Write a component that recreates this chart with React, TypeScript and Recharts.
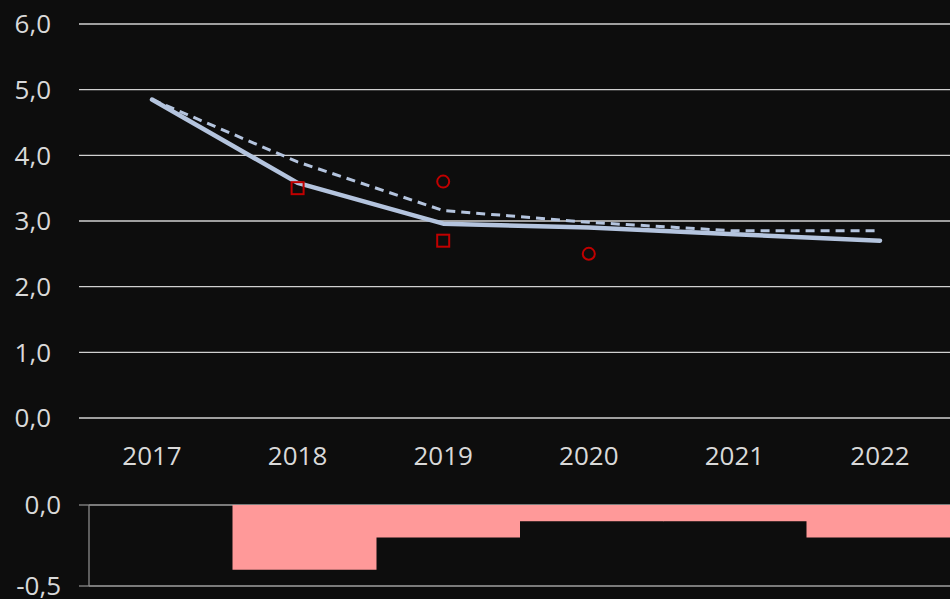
import React from "react";
import {
  ComposedChart,
  BarChart,
  Bar,
  Line,
  XAxis,
  YAxis,
  CartesianGrid,
} from "recharts";

const years = ["2017", "2018", "2019", "2020", "2021", "2022"];
const solidSeries = [4.85, 3.58, 2.96, 2.9, 2.8, 2.7];
const dashedSeries = [4.85, 3.9, 3.16, 2.98, 2.85, 2.85];
const squareSeries: (number | null)[] = [null, 3.5, 2.7, null, null, null];
const circleSeries: (number | null)[] = [null, null, 3.6, 2.5, null, null];
const diffSeries = [0, -0.4, -0.2, -0.1, -0.1, -0.2];
const topTicks = [0, 1, 2, 3, 4, 5, 6];
const bottomTicks = [-0.5, 0];

const topData = years.map((y, i) => ({
  year: y,
  solid: solidSeries[i],
  dashed: dashedSeries[i],
  square: squareSeries[i],
  circle: circleSeries[i],
}));

const bottomData = years.map((y, i) => ({ year: y, diff: diffSeries[i] }));

const fmt = (v: number) => v.toFixed(1).replace(".", ",");

const TEXT = "#d9d9d9";
const FONT = "'Open Sans', sans-serif";
const RED = "#c00000";
const LINE = "#b4c4de";

const SquareDot = (props: any) => {
  const { cx, cy, payload, index } = props;
  if (cx == null || cy == null || payload?.square == null) return <g key={`s${index}`} />;
  return (
    <rect
      key={`s${index}`}
      x={cx - 6}
      y={cy - 6}
      width={12}
      height={12}
      fill="none"
      stroke={RED}
      strokeWidth={2}
    />
  );
};

const CircleDot = (props: any) => {
  const { cx, cy, payload, index } = props;
  if (cx == null || cy == null || payload?.circle == null) return <g key={`c${index}`} />;
  return <circle key={`c${index}`} cx={cx} cy={cy} r={6} fill="none" stroke={RED} strokeWidth={2} />;
};

export default function App() {
  return (
    <div
      style={{
        position: "fixed",
        top: 0,
        left: 0,
        width: 950,
        height: 599,
        background: "#0d0d0d",
        overflow: "hidden",
      }}
    >
      <div style={{ position: "absolute", top: 0, left: 0 }}>
        <ComposedChart
          width={953}
          height={480}
          data={topData}
          margin={{ top: 24, right: 0, bottom: 12, left: 0 }}
        >
          <CartesianGrid vertical={false} stroke="#d0d0d0" strokeWidth={1.3} />
          <XAxis
            dataKey="year"
            axisLine={false}
            tickLine={false}
            height={50}
            tickMargin={23}
            interval={0}
            padding={{ left: 73, right: 73 }}
            tick={{ fill: TEXT, fontSize: 26, fontFamily: FONT }}
          />
          <YAxis
            domain={[0, 6]}
            ticks={topTicks}
            width={79}
            axisLine={false}
            tickLine={false}
            tickMargin={22}
            interval={0}
            tickFormatter={fmt}
            tick={{ fill: TEXT, fontSize: 26, fontFamily: FONT }}
          />
          <Line
            dataKey="dashed"
            stroke={LINE}
            strokeWidth={3}
            strokeDasharray="9 6"
            dot={false}
            isAnimationActive={false}
          />
          <Line
            dataKey="solid"
            stroke={LINE}
            strokeWidth={4.5}
            strokeLinecap="round"
            strokeLinejoin="round"
            dot={false}
            isAnimationActive={false}
          />
          <Line
            dataKey="square"
            stroke="none"
            dot={SquareDot}
            activeDot={false}
            isAnimationActive={false}
          />
          <Line
            dataKey="circle"
            stroke="none"
            dot={CircleDot}
            activeDot={false}
            isAnimationActive={false}
          />
        </ComposedChart>
      </div>
      <div style={{ position: "absolute", top: 480, left: 0 }}>
        <BarChart
          width={950}
          height={119}
          data={bottomData}
          barCategoryGap={0}
          margin={{ top: 25, right: 0, bottom: 13, left: 0 }}
        >
          <CartesianGrid vertical={false} stroke="#a0a0a0" strokeWidth={1.3} />
          <XAxis dataKey="year" hide />
          <YAxis
            domain={[-0.5, 0]}
            ticks={bottomTicks}
            width={89}
            interval={0}
            axisLine={{ stroke: "#8a8a8a", strokeWidth: 1.3 }}
            tickLine={{ stroke: "#8a8a8a", strokeWidth: 1.3 }}
            tickSize={10}
            tickMargin={18}
            tickFormatter={fmt}
            tick={{ fill: TEXT, fontSize: 26, fontFamily: FONT }}
          />
          <Bar dataKey="diff" fill="#ff9999" isAnimationActive={false} />
        </BarChart>
      </div>
    </div>
  );
}
